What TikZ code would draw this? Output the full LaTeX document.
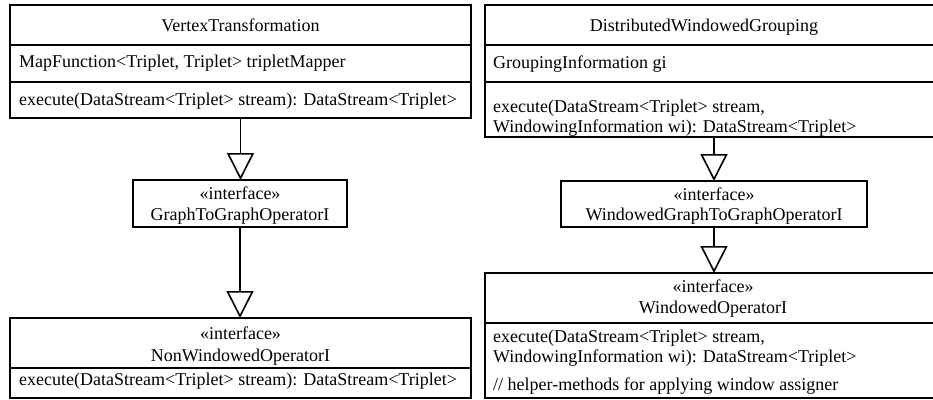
\documentclass[tikz,border=0pt]{standalone}
\usepackage{fontspec}
\setmainfont{Liberation Serif}
\usetikzlibrary{arrows.meta}
\begin{document}
\begin{tikzpicture}[x=1pt,y=-1pt,
  box/.style={draw, line width=1.6pt, inner sep=0pt, outer sep=0pt, anchor=north west},
  sep/.style={line width=1.6pt},
  txt/.style={inner sep=0pt, text height=12pt, text depth=4pt, font=\fontsize{18}{20}\selectfont},
  lt/.style={txt, anchor=west},
  gen/.style={line width=1.6pt, -{Triangle[open, length=27pt, width=27pt, line width=1.6pt]}}
]
\fill[white] (0,0) rectangle (933,399);
\useasboundingbox (0,0) rectangle (933,399);

% left column
\node[box, minimum width=461pt, minimum height=113pt] (vt) at (10,5) {};
\draw[sep] (10,45) -- (471,45);
\draw[sep] (10,82) -- (471,82);
\node[txt] (vtt) at (240.5,27) {VertexTransformation};
\node[lt] (vta) at (19,63) {MapFunction<Triplet, Triplet> tripletMapper};
\node[lt] (vtm) at (19,101) {execute(DataStream<Triplet> stream): DataStream<Triplet>};

\node[box, minimum width=214pt, minimum height=47pt] (gg) at (133,180) {};
\node[txt] (ggs) at (240,195) {«interface»};
\node[txt] (ggn) at (240,216) {GraphToGraphOperatorI};

\node[box, minimum width=461pt, minimum height=80pt] (nw) at (10,318) {};
\draw[sep] (10,368) -- (471,368);
\node[txt] (nws) at (240.5,335) {«interface»};
\node[txt] (nwn) at (240.5,357) {NonWindowedOperatorI};
\node[lt] (nwm) at (19,381) {execute(DataStream<Triplet> stream): DataStream<Triplet>};

\draw[gen] (vt.south) -- (vt.south |- gg.north);
\draw[gen] (gg.south) -- (gg.south |- nw.north);

% right column
\node[box, minimum width=456pt, minimum height=132pt] (dwg) at (485,5) {};
\draw[sep] (485,45) -- (941,45);
\draw[sep] (485,82) -- (941,82);
\node[txt] (dwgt) at (704,27) {DistributedWindowedGrouping};
\node[lt] (dwga) at (493,64) {GroupingInformation gi};
\node[lt] (dwgm1) at (493,108) {execute(DataStream<Triplet> stream,};
\node[lt] (dwgm2) at (493,128) {WindowingInformation wi): DataStream<Triplet>};

\node[box, minimum width=306pt, minimum height=46pt] (wgg) at (561,181) {};
\node[txt] (wggs) at (714,196) {«interface»};
\node[txt] (wggn) at (714,216) {WindowedGraphToGraphOperatorI};

\node[box, minimum width=456pt, minimum height=125pt] (wo) at (485,273) {};
\draw[sep] (485,323) -- (941,323);
\node[txt] (wos) at (713,288) {«interface»};
\node[txt] (won) at (713,309) {WindowedOperatorI};
\node[lt] (wom1) at (493,338) {execute(DataStream<Triplet> stream,};
\node[lt] (wom2) at (493,358) {WindowingInformation wi): DataStream<Triplet>};
\node[lt] (wom3) at (493,386) {// helper-methods for applying window assigner};

\draw[gen] (dwg.south -| wgg.north) -- (wgg.north);
\draw[gen] (wgg.south) -- (wgg.south |- wo.north);
\end{tikzpicture}
\end{document}
